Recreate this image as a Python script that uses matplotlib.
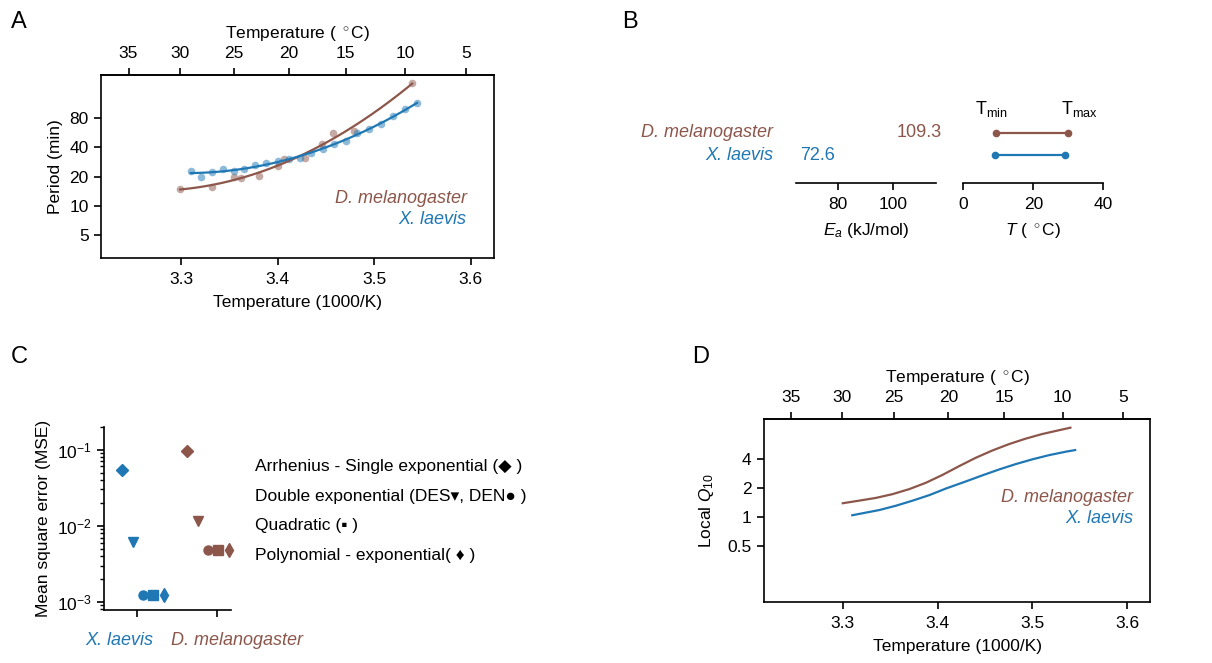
import numpy as np
import matplotlib
matplotlib.use('Agg')
import matplotlib.pyplot as plt
import matplotlib.transforms as mtransforms
from matplotlib.ticker import NullLocator, LogLocator, NullFormatter

plt.rcParams['font.family'] = ['Liberation Sans', 'DejaVu Sans']
plt.rcParams['font.size'] = 12.5
plt.rcParams['mathtext.fontset'] = 'custom'
plt.rcParams['mathtext.rm'] = 'Liberation Sans'
plt.rcParams['mathtext.it'] = 'Liberation Sans:italic'
plt.rcParams['mathtext.bf'] = 'Liberation Sans:bold'
plt.rcParams['axes.linewidth'] = 1.2
plt.rcParams['xtick.major.width'] = 1.2
plt.rcParams['ytick.major.width'] = 1.2
plt.rcParams['xtick.major.size'] = 5
plt.rcParams['ytick.major.size'] = 5
plt.rcParams['xtick.major.pad'] = 5
plt.rcParams['ytick.major.pad'] = 4

BLUE = '#1f77b4'
BROWN = '#8c564b'
SP = 13  # species label size

# panel A: measured periods
xl_temp = [29, 28, 27, 26, 25, 24, 23, 22, 21, 20, 19, 18, 17, 16, 15, 14, 13, 12, 11, 10, 9]
xl_period = [22.6, 20.0, 22.2, 23.8, 22.9, 23.7, 26.3, 27.3, 28.6, 30.3, 31.2,
             35.2, 38.5, 43.3, 46.5, 55.7, 61.3, 68.9, 84.4, 97.8, 113.2]
dm_temp = [30.0, 27.0, 25.0, 24.3, 22.7, 21.0, 20.4, 18.6, 17.1, 16.1, 14.3, 9.4]
dm_period = [14.9, 15.8, 19.7, 19.2, 20.3, 25.7, 30.1, 30.9, 43.0, 56.5, 59.3, 181.6]

# panel B
species = ['D. melanogaster', 'X. laevis']
ea = [109.3, 72.6]
t_min = [9.4, 9.0]
t_max = [30.0, 29.0]

# panel C: fit errors
model_markers = ['D', 'v', 'o', 's', 'd']
mse_xl = [0.0545, 0.00615, 0.00123, 0.00123, 0.00123]
mse_dm = [0.095, 0.0116, 0.0048, 0.0048, 0.0048]
model_text = ['Arrhenius - Single exponential (\u25C6 )',
              'Double exponential (DES\u25BE, DEN\u25CF )',
              'Quadratic (\u25AA )',
              'Polynomial - exponential( \u2666 )']

# panel D: local Q10 along the fits
q10_x_dm = [3.300, 3.3175, 3.335, 3.3525, 3.370, 3.3875, 3.405, 3.4225,
            3.440, 3.4575, 3.475, 3.4925, 3.510, 3.5275, 3.540]
q10_dm = [1.40, 1.49, 1.59, 1.74, 1.96, 2.28, 2.75, 3.39,
          4.14, 4.93, 5.74, 6.54, 7.31, 8.00, 8.52]
q10_x_xl = [3.310, 3.3386, 3.3562, 3.3737, 3.3913, 3.4088, 3.4299, 3.4474,
            3.4649, 3.4825, 3.500, 3.5175, 3.5352, 3.545]
q10_xl = [1.05, 1.19, 1.32, 1.49, 1.70, 1.99, 2.36, 2.73,
          3.14, 3.57, 4.00, 4.42, 4.80, 4.99]


def k2c(x):
    x = np.asarray(x, dtype=float)
    with np.errstate(divide='ignore'):
        return 1000.0 / x - 273.15


def c2k(c):
    c = np.asarray(c, dtype=float)
    with np.errstate(divide='ignore'):
        return 1000.0 / (c + 273.15)


def temp_axes(ax):
    ax.set_xlim(3.217, 3.624)
    ax.set_xticks([3.3, 3.4, 3.5, 3.6])
    ax.set_xlabel('Temperature (1000/K)', labelpad=6)
    ax.tick_params(top=False)
    sec = ax.secondary_xaxis('top', functions=(k2c, c2k))
    sec.set_xticks([35, 30, 25, 20, 15, 10, 5])
    sec.set_xlabel('Temperature ( $^\\circ$C)', labelpad=6)
    sec.tick_params(pad=5)
    return sec


fig = plt.figure(figsize=(12.12, 6.63), dpi=100)

# ---- A
axA = fig.add_axes([0.0836, 0.6113, 0.324, 0.2751])
for temps, per, col in [(dm_temp, dm_period, BROWN), (xl_temp, xl_period, BLUE)]:
    x = 1000.0 / (np.array(temps) + 273.15)
    axA.scatter(x, per, s=30, color=col, alpha=0.5, lw=0, zorder=2)
    coef = np.polyfit(x, np.log(per), 2)
    xx = np.linspace(x.min(), x.max(), 200)
    axA.plot(xx, np.exp(np.polyval(coef, xx)), color=col, lw=1.6, zorder=3)
axA.set_yscale('log', base=2)
axA.set_yticks([5, 10, 20, 40, 80])
axA.set_yticklabels(['5', '10', '20', '40', '80'])
axA.yaxis.set_minor_locator(NullLocator())
axA.set_ylim(2.94, 219)
axA.set_ylabel('Period (min)', labelpad=5)
temp_axes(axA)
axA.text(0.9305, 0.322, 'D. melanogaster', color=BROWN, style='italic',
         ha='right', va='center', transform=axA.transAxes, fontsize=SP)
axA.text(0.9305, 0.207, 'X. laevis', color=BLUE, style='italic',
         ha='right', va='center', transform=axA.transAxes, fontsize=SP)

# ---- B
axB1 = fig.add_axes([0.6568, 0.7235, 0.1153, 0.1106])
axB2 = fig.add_axes([0.7948, 0.7235, 0.1155, 0.1106])
cols = [BROWN, BLUE]
rows = [1, 0]
for ax in (axB1, axB2):
    for s in ['top', 'right', 'left']:
        ax.spines[s].set_visible(False)
    ax.set_yticks([])
    ax.set_ylim(-1.27, 2.02)
axB1.set_xlim(65, 115.25)
axB1.set_xticks([80, 100])
axB1.set_xlabel('$E_a$ (kJ/mol)', labelpad=6)
axB2.set_xlim(0, 40)
axB2.set_xticks([0, 20, 40])
axB2.set_xlabel('$T$ ( $^\\circ$C)', labelpad=6)
for i in range(2):
    axB1.text(ea[i], rows[i], '%.1f' % ea[i], color=cols[i], ha='center', va='center', fontsize=SP)
    axB1.text(-0.165, rows[i], species[i], color=cols[i], style='italic', ha='right', va='center',
              fontsize=SP, transform=mtransforms.blended_transform_factory(axB1.transAxes, axB1.transData))
    axB2.plot([t_min[i], t_max[i]], [rows[i], rows[i]], color=cols[i], lw=1.6,
              marker='o', ms=4.5, clip_on=False)
axB2.text(t_min[0] - 1.5, 2.05, 'T$_{\\mathrm{min}}$', ha='center', va='center', fontsize=13)
axB2.text(t_max[0] + 3.3, 2.05, 'T$_{\\mathrm{max}}$', ha='center', va='center', fontsize=13)

# ---- C
axC = fig.add_axes([0.0858, 0.0799, 0.1048, 0.2765])
for s in ['top', 'right']:
    axC.spines[s].set_visible(False)
groups = [(mse_xl, BLUE, 0.07), (mse_dm, BROWN, 0.89)]
for vals, col, centre in groups:
    for k, (m, v) in enumerate(zip(model_markers, vals)):
        axC.plot(centre + (k - 2) * 0.13, v, marker=m, color=col, ms=6.5 if m != 'd' else 7,
                 ls='none', clip_on=False)
axC.set_yscale('log')
axC.set_ylim(7.8e-4, 0.2)
axC.yaxis.set_major_locator(LogLocator(base=10, numticks=10))
axC.yaxis.set_minor_locator(LogLocator(base=10, subs=np.arange(2, 10), numticks=10))
axC.yaxis.set_minor_formatter(NullFormatter())
axC.tick_params(which='minor', length=3, width=1)
axC.set_xlim(-0.42, 1.18)
axC.set_xticks([0, 1])
axC.set_xticklabels(['', ''])
axC.set_ylabel('Mean square error (MSE)', labelpad=4)
trC = mtransforms.blended_transform_factory(axC.transData, axC.transAxes)
axC.text(-0.23, -0.165, 'X. laevis', color=BLUE, style='italic', ha='center', va='center',
         transform=trC, fontsize=SP)
axC.text(1.25, -0.165, 'D. melanogaster', color=BROWN, style='italic', ha='center', va='center',
         transform=trC, fontsize=SP)
for j, t in enumerate(model_text):
    axC.text(1.189, 0.782 - j * 0.161, t, ha='left', va='center', transform=axC.transAxes,
             fontsize=12.5)

# ---- D
axD = fig.add_axes([0.6304, 0.0925, 0.3185, 0.2756])
axD.plot(q10_x_dm, q10_dm, color=BROWN, lw=1.6)
axD.plot(q10_x_xl, q10_xl, color=BLUE, lw=1.6)
axD.set_yscale('log', base=2)
axD.set_yticks([0.5, 1, 2, 4])
axD.set_yticklabels(['0.5', '1', '2', '4'])
axD.yaxis.set_minor_locator(NullLocator())
axD.set_ylim(0.133, 10.5)
axD.set_ylabel('Local $Q_{10}$', labelpad=8)
temp_axes(axD)
axD.text(0.9567, 0.569, 'D. melanogaster', color=BROWN, style='italic',
         ha='right', va='center', transform=axD.transAxes, fontsize=SP)
axD.text(0.9567, 0.453, 'X. laevis', color=BLUE, style='italic',
         ha='right', va='center', transform=axD.transAxes, fontsize=SP)

for lab, x, y in [('A', 0.0157, 0.9668), ('B', 0.5198, 0.9668), ('C', 0.0157, 0.4615), ('D', 0.5784, 0.4615)]:
    fig.text(x, y, lab, fontsize=17, ha='center', va='center')

fig.savefig('out.png', dpi=100)
